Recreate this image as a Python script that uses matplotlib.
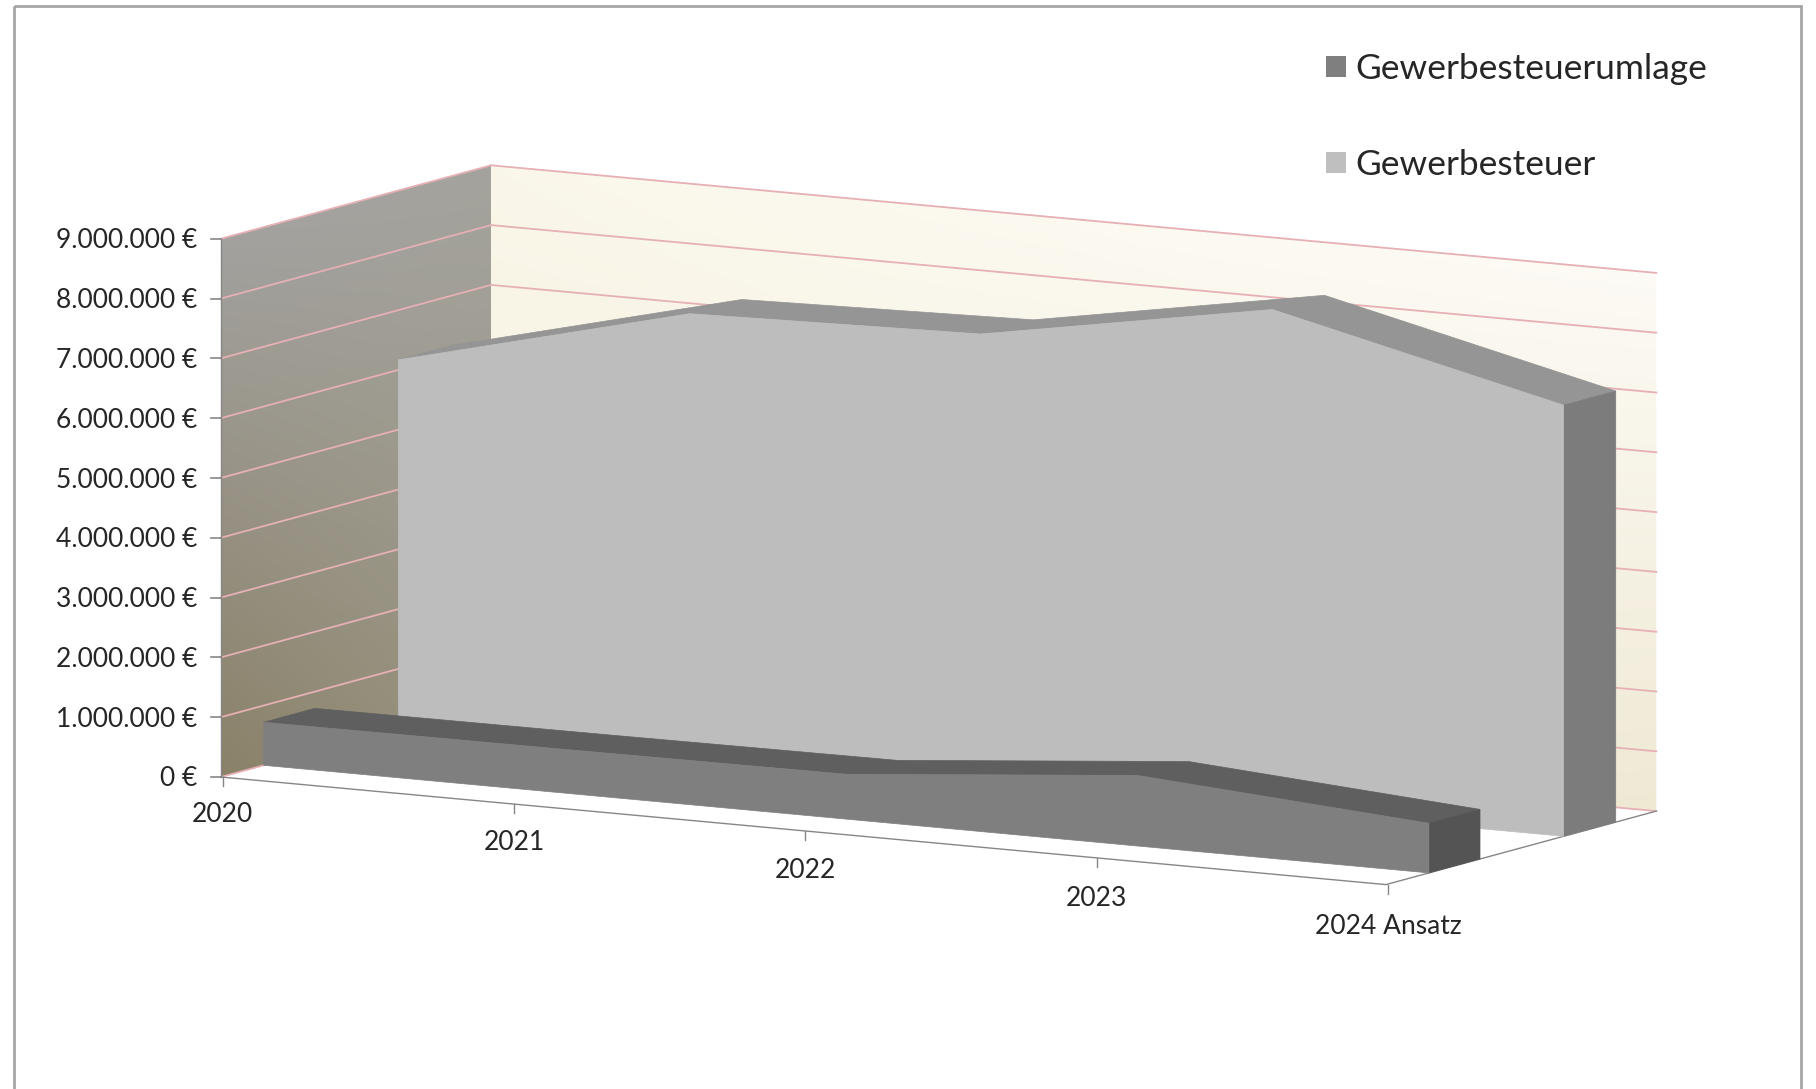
import matplotlib

matplotlib.use('Agg')
import numpy as np
import matplotlib.pyplot as plt
from matplotlib.patches import Polygon, Patch, Rectangle

categories = ["2020", "2021", "2022", "2023", "2024 Ansatz"]
gewerbesteuer = [6.17, 7.39, 7.50, 8.36, 7.21]  # million euro
umlage = [0.72, 0.73, 0.75, 1.18, 0.83]
y_ticks = [0, 1, 2, 3, 4, 5, 6, 7, 8, 9]
y_labels = ["0 €", "1.000.000 €", "2.000.000 €", "3.000.000 €", "4.000.000 €",
            "5.000.000 €", "6.000.000 €", "7.000.000 €", "8.000.000 €", "9.000.000 €"]

# oblique projection, all in image pixels
origin = np.array([220.7, 777.0])
cat_step = np.array([291.3, 26.9])
depth_vec = np.array([270.4, -73.5])
million = 59.8
x_max = len(categories) - 1
y_max = y_ticks[-1]


def proj(cat, val, depth):
    p = origin + cat * cat_step + depth * depth_vec
    return p[0], p[1] - val * million


def gradient_poly(ax, corners, top_l, top_r, bot_l, bot_r):
    # bilinear colour fill clipped to a wall
    top_l, top_r, bot_l, bot_r = [np.array(matplotlib.colors.to_rgb(c)) for c in (top_l, top_r, bot_l, bot_r)]
    u = np.linspace(0, 1, 200)[None, :, None]
    v = np.linspace(0, 1, 200)[:, None, None]
    img = (1 - v) * ((1 - u) * top_l + u * top_r) + v * ((1 - u) * bot_l + u * bot_r)
    xs = [c[0] for c in corners]
    ys = [c[1] for c in corners]
    im = ax.imshow(img, extent=(min(xs), max(xs), max(ys), min(ys)), aspect='auto', zorder=1)
    im.set_clip_path(Polygon(corners, transform=ax.transData))


def draw_series(ax, values, d0, d1, front, top, side, z):
    n = len(values)
    front_top = [proj(i, values[i], d0) for i in range(n)]
    back_top = [proj(i, values[i], d1) for i in range(n)]
    base = [proj(n - 1, 0, d0), proj(0, 0, d0)]
    ax.add_patch(Polygon(front_top + back_top[::-1], fc=top, ec=top, lw=0.5, zorder=z))
    ax.add_patch(Polygon([front_top[-1], back_top[-1], proj(n - 1, 0, d1), proj(n - 1, 0, d0)],
                         fc=side, ec=side, lw=0.5, zorder=z))
    ax.add_patch(Polygon(front_top + base, fc=front, ec=front, lw=0.5, zorder=z + 0.1))


plt.rcParams['font.family'] = ['Lato', 'DejaVu Sans']
fig = plt.figure(figsize=(18.16, 10.89), dpi=100)
ax = fig.add_axes([0, 0, 1, 1])

# walls
left_wall = [proj(0, y_max, 0), proj(0, y_max, 1), proj(0, 0, 1), proj(0, 0, 0)]
back_wall = [proj(0, y_max, 1), proj(x_max, y_max, 1), proj(x_max, 0, 1), proj(0, 0, 1)]
gradient_poly(ax, left_wall, '#a6a6a6', '#a4a39d', '#8a8168', '#98937f')
gradient_poly(ax, back_wall, '#faf7ea', '#fffefb', '#f3eedb', '#efe9d4')

grid_color = '#e6b0b5'
for t in y_ticks:
    ax.plot(*zip(proj(0, t, 0), proj(0, t, 1)), color=grid_color, lw=1.3, zorder=2)
    ax.plot(*zip(proj(0, t, 1), proj(x_max, t, 1)), color=grid_color, lw=1.3, zorder=2)
    x0, y0 = proj(0, t, 0)
    ax.plot([x0 - 10, x0], [y0, y0], color='#868686', lw=1.2, zorder=2)
    ax.text(x0 - 23, y0 + 2, y_labels[t], ha='right', va='center', fontsize=19, color='#262626')

ax.plot(*zip(proj(0, y_max, 0), proj(0, 0, 0)), color='#868686', lw=1.0, zorder=2)

# floor edges and category ticks
ax.plot(*zip(proj(0, 0, 0), proj(x_max, 0, 0), proj(x_max, 0, 1)), color='#868686', lw=1.0, zorder=3)
for i, lab in enumerate(categories):
    x0, y0 = proj(i, 0, 0)
    ax.plot([x0 + 2, x0 + 2], [y0, y0 + 9], color='#868686', lw=1.0, zorder=3)
    ax.text(x0 + 2, y0 + 37 + i * 1.2, lab, ha='center', va='center', fontsize=19, color='#262626')

draw_series(ax, gewerbesteuer, 0.657, 0.85, '#bdbdbd', '#959595', '#7c7c7c', 4)
draw_series(ax, umlage, 0.159, 0.348, '#7f7f7f', '#5f5f5f', '#545454', 5)

# outer frame runs off the bottom of the image
ax.add_patch(Rectangle((14, 6), 1787, 1200, fc='none', ec='#a6a6a6', lw=2, zorder=6))

handles = [Patch(fc='#7f7f7f', label="Gewerbesteuerumlage"), Patch(fc='#bfbfbf', label="Gewerbesteuer")]
ax.legend(handles=handles, loc='upper left', bbox_to_anchor=(1326 / 1816, 1 - 53 / 1089), frameon=False,
          fontsize=25.4, handlelength=0.56, handleheight=0.56, handletextpad=0.27, labelspacing=1.82,
          borderpad=0, borderaxespad=0, labelcolor='#262626')

ax.set_xlim(0, 1816)
ax.set_ylim(1089, 0)
ax.axis('off')
fig.savefig("out.png", dpi=100, facecolor='white')
